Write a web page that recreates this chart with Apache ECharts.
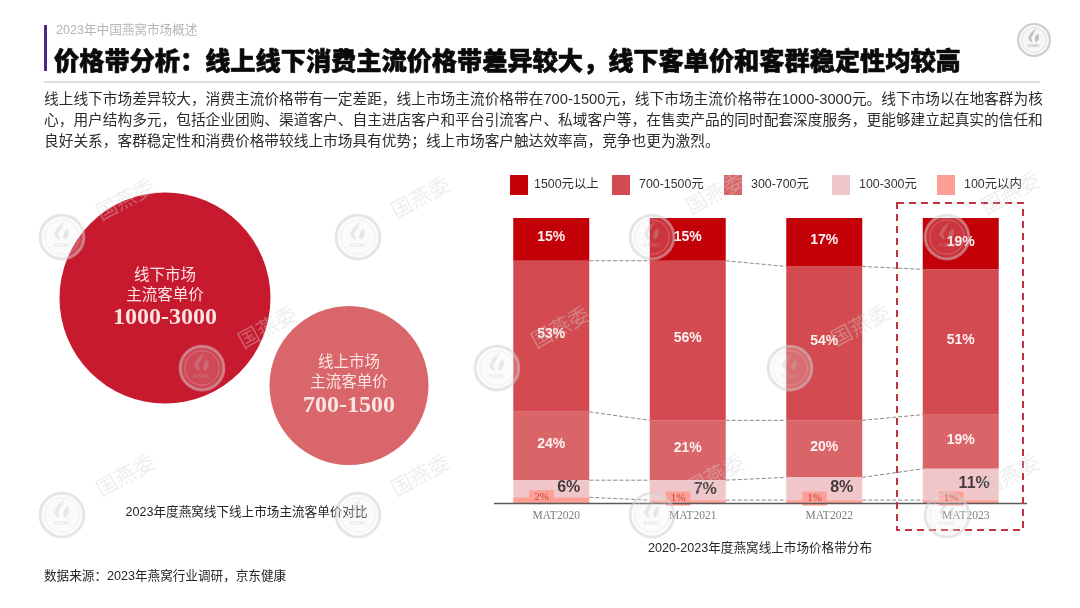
<!DOCTYPE html>
<html>
<head>
<meta charset="utf-8">
<title>价格带分析</title>
<style>
html,body{margin:0;padding:0;background:#fff;}
#main{width:1080px;height:608px;}
</style>
<script src="https://cdn.jsdelivr.net/npm/echarts@6/dist/echarts.min.js"></script>
</head>
<body>
<div id="main"></div>
<script>
var years = ['MAT2020','MAT2021','MAT2022','MAT2023'];
var bandNames = ['1500元以上','700-1500元','300-700元','100-300元','100元以内'];
var over1500 = [15,15,17,19];
var from700 = [53,56,54,51];
var from300 = [24,21,20,19];
var from100 = [6,7,8,11];
var under100 = [2,1,1,1];
var bandColors = ['#c30008','#d34b50','#da6568','#f1c6ca','#fd9f94'];

var marketNames = ['线下市场','线上市场'];
var marketPrices = ['1000-3000','700-1500'];
var marketColors = ['#c81a2e','#d9666a'];

var cjk = '"Noto Sans CJK SC"';
var latin = '"Liberation Sans","Noto Sans CJK SC"';
var serif = '"Liberation Serif","Noto Serif",serif';

// 图例位置
var legendLeft = [505,607,719,827,932];
var legendPad = [1,4,4,4,4];

// 水印位置
var logoAt = [[62,237],[358,237],[202,368],[62,515],[358,515],[652,237],[947,237],[497,368],[790,368],[652,515],[947,515]];
var markAt = [[125,199],[420,197],[267,327],[125,475],[420,475],[715,193],[1010,193],[560,327],[860,325],[715,475],[1010,475]];

function logo(x,y,r,alpha,inkAlpha){
    var u = r/22;
    var flame = [[3,-16],[-4,-10],[-8,-3],[-5,2],[-2,3],[-4,-3],[-1,-8]].map(function(p){ return [p[0]*u,p[1]*u]; });
    var flame2 = [[6,-9],[2,-5],[1,0],[3,3],[6,0],[7,-5]].map(function(p){ return [p[0]*u,p[1]*u]; });
    return {
        type:'group',x:x,y:y,silent:true,
        children:[
            {type:'circle',z:120,shape:{r:r},style:{fill:'rgba(235,235,235,'+(alpha*0.45)+')',stroke:'rgba(205,205,205,'+alpha+')',lineWidth:r/8}},
            {type:'circle',z:120,shape:{r:r*0.78},style:{fill:'none',stroke:'rgba(215,215,215,'+alpha+')',lineWidth:0.6}},
            {type:'polygon',z:120,shape:{points:flame},style:{fill:'rgba(190,190,190,'+inkAlpha+')'}},
            {type:'polygon',z:120,shape:{points:flame2},style:{fill:'rgba(190,190,190,'+inkAlpha+')'}},
            {type:'text',z:120,style:{x:0,y:r*0.38,text:'KSMC',align:'center',verticalAlign:'middle',font:'bold '+(r*0.26)+'px '+latin,fill:'rgba(190,190,190,'+inkAlpha+')'}}
        ]
    };
}

function cumulative(upTo){
    var parts = [under100,from100,from300,from700];
    return years.map(function(y,i){
        var s = 0;
        for(var k=0;k<=upTo;k++){ s += parts[k][i]; }
        return s;
    });
}

// 柱间虚线
var linkData = [];
[0,1,2,3].forEach(function(k){
    var c = cumulative(k);
    for(var i=0;i<years.length-1;i++){ linkData.push([i,c[i],c[i+1]]); }
});

function bar(name,values,color,label,z){
    return {
        name:name,type:'bar',stack:'share',barWidth:76,data:values,z:z,
        itemStyle:{color:color},
        label:label,
        silent:true
    };
}
function innerLabel(){
    return {show:true,position:'inside',offset:[0,-2],formatter:'{c}%',color:'#fdf1f1',fontFamily:latin,fontWeight:'bold',fontSize:14};
}
var pieRich = {
    a:{fontFamily:cjk,fontSize:15.5,lineHeight:20,color:'#fbe4e4'},
    b:{fontFamily:serif,fontSize:24,fontWeight:'bold',lineHeight:28,color:'#fbe4e4'}
};

var series = [
    {type:'pie',silent:true,center:[165,298],radius:[0,105.5],label:{show:true,position:'center',formatter:'{a|'+marketNames[0]+'}\n{a|主流客单价}\n{b|'+marketPrices[0]+'}',rich:pieRich},labelLine:{show:false},data:[{value:3000,name:marketNames[0],itemStyle:{color:marketColors[0]}}]},
    {type:'pie',silent:true,center:[349,385.5],radius:[0,79.5],label:{show:true,position:'center',formatter:'{a|'+marketNames[1]+'}\n{a|主流客单价}\n{b|'+marketPrices[1]+'}',rich:pieRich},labelLine:{show:false},data:[{value:1500,name:marketNames[1],itemStyle:{color:marketColors[1]}}]},
    bar(bandNames[4],under100,bandColors[4],{show:true,position:'insideLeft',distance:16,offset:[0,-3],formatter:'{c}%',color:'#c2453f',fontFamily:serif,fontSize:11,backgroundColor:'#fd9f94',padding:[2,5,1,5]},6),
    bar(bandNames[3],from100,bandColors[3],{show:true,position:'insideRight',distance:9,offset:[0,-1],formatter:'{c}%',color:'#433b3b',fontFamily:latin,fontWeight:'bold',fontSize:16},4),
    bar(bandNames[2],from300,bandColors[2],innerLabel(),3),
    bar(bandNames[1],from700,bandColors[1],innerLabel(),3),
    bar(bandNames[0],over1500,bandColors[0],innerLabel(),3),
    {
        type:'custom',silent:true,z:2,data:linkData,
        encode:{x:0,y:1},
        renderItem:function(params,api){
            var a = api.coord([api.value(0),api.value(1)]);
            var b = api.coord([api.value(0)+1,api.value(2)]);
            return {type:'line',shape:{x1:a[0]+38,y1:a[1],x2:b[0]-38,y2:b[1]},style:{stroke:'#8a8a8a',lineWidth:1,lineDash:[4,2]}};
        }
    }
];

var graphics = [
    {type:'rect',shape:{x:44,y:25,width:3,height:46},style:{fill:'#4f2a86'}},
    {type:'text',style:{x:56,y:31,text:'2023年中国燕窝市场概述',verticalAlign:'middle',font:'12.6px '+latin,fill:'#b5b5b5'}},
    {type:'text',style:{x:54,y:60,text:'价格带分析：线上线下消费主流价格带差异较大，线下客单价和客群稳定性均较高',verticalAlign:'middle',font:'900 25.2px '+cjk,fill:'#0a0a0a',stroke:'#0a0a0a',lineWidth:0.6}},
    {type:'line',shape:{x1:44,y1:82,x2:1040,y2:82},style:{stroke:'#b9b9b9',lineWidth:1}},
    {type:'text',style:{x:44,y:100,text:'线上线下市场差异较大，消费主流价格带有一定差距，线上市场主流价格带在700-1500元，线下市场主流价格带在1000-3000元。线下市场以在地客群为核',verticalAlign:'middle',font:'14.7px '+latin,fill:'#2c2c2c'}},
    {type:'text',style:{x:44,y:121,text:'心，用户结构多元，包括企业团购、渠道客户、自主进店客户和平台引流客户、私域客户等，在售卖产品的同时配套深度服务，更能够建立起真实的信任和',verticalAlign:'middle',font:'14.7px '+latin,fill:'#2c2c2c'}},
    {type:'text',style:{x:44,y:142,text:'良好关系，客群稳定性和消费价格带较线上市场具有优势；线上市场客户触达效率高，竞争也更为激烈。',verticalAlign:'middle',font:'14.7px '+latin,fill:'#2c2c2c'}},
    {type:'text',style:{x:246.5,y:513,text:'2023年度燕窝线下线上市场主流客单价对比',align:'center',verticalAlign:'middle',font:'12.6px '+latin,fill:'#262626'}},
    {type:'text',style:{x:760,y:549,text:'2020-2023年度燕窝线上市场价格带分布',align:'center',verticalAlign:'middle',font:'12.6px '+latin,fill:'#262626'}},
    {type:'text',style:{x:44,y:577,text:'数据来源：2023年燕窝行业调研，京东健康',verticalAlign:'middle',font:'12.6px '+latin,fill:'#262626'}},
    {type:'line',z:50,shape:{x1:494,y1:503.5,x2:1027,y2:503.5},style:{stroke:'#5a5a5a',lineWidth:1.5}},
    {type:'rect',z:50,shape:{x:897,y:203,width:126,height:327},style:{fill:'none',stroke:'#c0343f',lineWidth:2,lineDash:[7,5]}},
    logo(1034,40,16,1,1)
];
logoAt.forEach(function(p){ graphics.push(logo(p[0],p[1],22,0.5,0.3)); });
markAt.forEach(function(p){
    graphics.push({type:'text',x:p[0],y:p[1],rotation:0.5,z:120,silent:true,style:{text:'国燕委',align:'center',verticalAlign:'middle',font:'21px '+cjk,fill:'rgba(210,210,210,0.38)'}});
});

var chart = echarts.init(document.getElementById('main'),null,{renderer:'canvas'});
chart.setOption({
    animation:false,
    backgroundColor:'#fff',
    legend:bandNames.map(function(n,i){
        return {
            left:legendLeft[i],top:170,data:[n],icon:'rect',itemWidth:18,itemHeight:20,selectedMode:false,
            textStyle:{fontFamily:latin,fontSize:12.4,color:'#333',padding:[0,0,0,legendPad[i]]}
        };
    }),
    grid:{left:483,width:546,top:218,height:285},
    xAxis:{
        type:'category',data:years,
        axisLine:{show:false},axisTick:{show:false},
        axisLabel:{margin:7,fontFamily:serif,fontSize:11.5,color:'#7d7d7d',padding:[0,0,0,10]}
    },
    yAxis:{type:'value',min:0,max:100,show:false,splitLine:{show:false}},
    graphic:{elements:graphics},
    series:series
});
</script>
</body>
</html>
